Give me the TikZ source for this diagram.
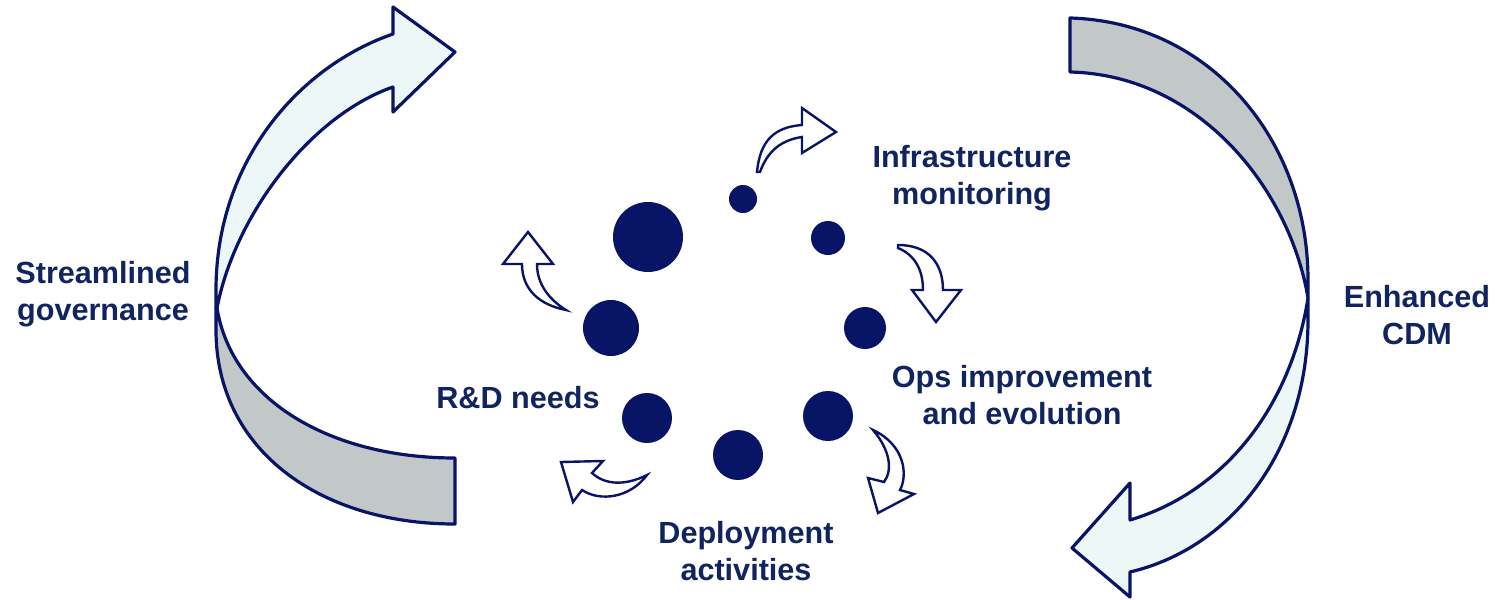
\documentclass[tikz,border=0pt]{standalone}
\usepackage{fontspec}
\setmainfont{Liberation Sans}
\definecolor{navy}{RGB}{8,20,102}
\definecolor{textnavy}{RGB}{16,36,96}
\definecolor{palefill}{RGB}{238,247,247}
\definecolor{greyfill}{RGB}{194,200,200}
\begin{document}
\begin{tikzpicture}[x=0.5pt, y=-0.5pt,
        label/.style={text=textnavy, font=\fontsize{15.3}{18.5}\selectfont\bfseries, align=center},
        dot/.style={circle, fill=navy, inner sep=0pt},
        bigarrow/.style={draw=navy, line width=1.6pt, line join=round},
        smallarrow/.style={draw=navy, fill=white, line width=1.2pt, line join=miter}]
        \useasboundingbox (0,0) rectangle (1496,600);

        % Left loop arrow (light top, grey bottom)
        \draw[bigarrow, fill=palefill] (216,308) -- (216,290) .. controls (216,160) and (300,66) .. (393,34)
            -- (393,7) -- (455,52) -- (393,112) -- (393,87) .. controls (310,116) and (235,215) .. (217,308) -- cycle;
        \draw[bigarrow, fill=greyfill] (216,308) -- (216,330) .. controls (216,450) and (320,524) .. (455,524)
            -- (455,458) .. controls (330,458) and (232,400) .. (217,308) -- cycle;

        % Right loop arrow (grey top, light bottom)
        \draw[bigarrow, fill=greyfill] (1070,18) .. controls (1210,22) and (1308,140) .. (1308,280)
            -- (1308,298) .. controls (1290,190) and (1200,75) .. (1070,72) -- cycle;
        \draw[bigarrow, fill=palefill] (1308,298) -- (1308,320) .. controls (1308,450) and (1232,548) .. (1130,572)
            -- (1130,597) -- (1072,548) -- (1130,483) -- (1130,520) .. controls (1230,490) and (1292,400) .. (1308,298) -- cycle;

        % Ring of dots
        \foreach \n/\x/\y/\d in {1/648/237/35, 2/743/199/14, 3/828/238/17, 4/865/328/21,
                                 5/828/416/25, 6/738/455/25, 7/647/418/25, 8/611/328/28} {
            \node[dot, minimum size=\d pt] (c\n) at (\x,\y) {};
        }

        % Small curved arrows round the ring
        \draw[smallarrow] (757,172) .. controls (760,140) and (775,127) .. (802,125) -- (802,108) -- (836,132)
            -- (802,153) -- (802,137) .. controls (782,140) and (768,150) .. (760,172) -- cycle;
        \draw[smallarrow] (898,245) .. controls (930,245) and (943,265) .. (943,290) -- (961,290) -- (936,322)
            -- (912,290) -- (923,290) .. controls (923,270) and (915,255) .. (898,248) -- cycle;
        \draw[smallarrow] (873,430) .. controls (905,445) and (908,475) .. (900,490) -- (914,494) -- (878,513)
            -- (868,478) -- (884,482) .. controls (893,470) and (890,450) .. (873,430) -- cycle;
        \draw[smallarrow] (647,475) .. controls (625,486) and (605,485) .. (592,473) -- (603,461) -- (561,462)
            -- (573,502) -- (582,490) .. controls (600,502) and (630,498) .. (647,475) -- cycle;
        \draw[smallarrow] (566,310) .. controls (540,305) and (522,290) .. (522,264) -- (503,264) -- (528,232)
            -- (553,264) -- (537,264) .. controls (537,285) and (550,300) .. (566,310) -- cycle;

        % Labels
        \node[label] (gov) at (103,294) {Streamlined\\governance};
        \node[label] (infra) at (972,178) {Infrastructure\\monitoring};
        \node[label] (cdm) at (1417,315) {Enhanced\\CDM};
        \node[label] (ops) at (1022,395) {Ops improvement\\and evolution};
        \node[label] (rnd) at (518,398) {R\&D needs};
        \node[label] (deploy) at (746,551) {Deployment\\activities};
    \end{tikzpicture}
\end{document}
